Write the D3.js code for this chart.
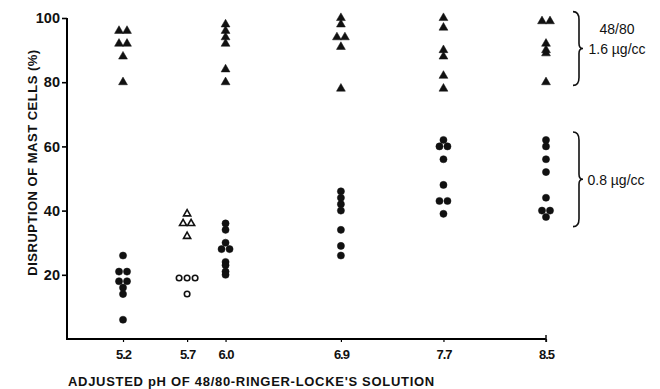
<!DOCTYPE html>
<html>
<head>
<meta charset="utf-8">
<script src="https://cdn.jsdelivr.net/npm/d3@7"></script>
<style>
  body { margin: 0; background: #fff; }
  text { font-family: "Liberation Sans", Arial, sans-serif; fill: #111; }
</style>
</head>
<body>
<script>
const WIDTH = 660
const HEIGHT = 389

// Data
const phTicks = [5.2, 5.7, 6.0, 6.9, 7.7, 8.5]
const yTicks = [20, 40, 60, 80, 100]

// 48/80 at 1.6 ug/cc (filled triangles)
const highDosePh = [5.2, 6.0, 6.9, 7.7, 8.5]
const highDoseValues = [
  [96, 96, 92, 92, 88, 80],
  [98, 96, 94, 92, 84, 80],
  [100, 98, 94, 94, 91, 78],
  [100, 97, 90, 88, 82, 78],
  [99, 99, 92, 90, 89, 80]
]

// 48/80 at 0.8 ug/cc (filled circles)
const lowDosePh = [5.2, 6.0, 6.9, 7.7, 8.5]
const lowDoseValues = [
  [26, 21, 21, 18, 18, 16, 14, 6],
  [36, 34, 30, 28, 28, 24, 23, 21, 20],
  [46, 44, 42, 40, 34, 29, 26],
  [62, 60, 60, 56, 48, 43, 43, 39],
  [62, 60, 56, 52, 44, 40, 40, 38]
]

// open symbols at pH 5.7
const openPh = 5.7
const openTriangles = [39, 36, 36, 32]
const openCircles = [19, 19, 19, 14]

// bracket ranges (% disruption) and labels
const braceRanges = [[79, 102], [35, 64.5]]
const braceLabels = [["48/80", "1.6 \u00b5g/cc"], ["0.8 \u00b5g/cc"]]

// Scales
const x = d3.scaleLinear().domain([4.763, 8.5]).range([67, 546])
const y = d3.scaleLinear().domain([0, 100]).range([339, 18])

const svg = d3.select("body").append("svg")
  .attr("width", WIDTH)
  .attr("height", HEIGHT)
  .attr("viewBox", [0, 0, WIDTH, HEIGHT])

// Build point list; equal values in a column sit side by side
const points = []
const addGroup = (ph, values, shape, filled) => {
  const counts = d3.rollup(values, v => v.length, d => d)
  const seen = new Map()
  values.forEach(v => {
    const n = counts.get(v)
    const k = seen.get(v) || 0
    seen.set(v, k + 1)
    points.push({ ph, v, shape, filled, off: (k - (n - 1) / 2) * 8 })
  })
}
highDosePh.forEach((ph, i) => addGroup(ph, highDoseValues[i], "tri", true))
lowDosePh.forEach((ph, i) => addGroup(ph, lowDoseValues[i], "circle", true))
addGroup(openPh, openTriangles, "tri", false)
addGroup(openPh, openCircles, "circle", false)

const triangle = d3.symbol().type(d3.symbolTriangle)
const circle = d3.symbol().type(d3.symbolCircle)

svg.append("g")
  .selectAll("path")
  .data(points)
  .join("path")
    .attr("transform", d => `translate(${x(d.ph) + d.off},${y(d.v)})`)
    .attr("d", d => d.shape === "tri"
      ? triangle.size(d.filled ? 34 : 22)()
      : circle.size(d.filled ? 40 : 24)())
    .attr("fill", d => d.filled ? "#111" : "#fff")
    .attr("stroke", "#111")
    .attr("stroke-width", d => d.filled ? 0.5 : 1.6)

// Axes
svg.append("g")
  .attr("transform", `translate(${x.range()[0]},0)`)
  .call(d3.axisLeft(y).tickValues(yTicks).tickSize(5).tickPadding(2).tickSizeOuter(0))
  .call(g => g.select(".domain").attr("stroke-width", 2).attr("d", `M0,${y(100)}V${y(0) + 1}`))
  .call(g => g.selectAll(".tick line").attr("stroke-width", 1.6))
  .call(g => g.selectAll(".tick text")
    .attr("font-size", 14.5).attr("font-weight", "bold")
    .attr("font-family", "Liberation Sans, Arial, sans-serif").attr("fill", "#111"))

svg.append("g")
  .attr("transform", `translate(0,${y(0)})`)
  .call(d3.axisBottom(x).tickValues(phTicks).tickFormat(d3.format(".1f")).tickSize(3).tickPadding(8).tickSizeOuter(0))
  .call(g => g.select(".domain").attr("stroke-width", 2).attr("d", `M${x.range()[0]},0H${x(8.5)}`))
  .call(g => g.selectAll(".tick line").attr("stroke-width", 1.2))
  .call(g => g.selectAll(".tick text")
    .attr("font-size", 13).attr("font-weight", "bold").attr("letter-spacing", -1)
    .attr("font-family", "Liberation Sans, Arial, sans-serif").attr("fill", "#111"))

svg.append("line")
  .attr("x1", x(8.5)).attr("x2", x(8.5))
  .attr("y1", y(0) - 4).attr("y2", y(0) + 3)
  .attr("stroke", "#111").attr("stroke-width", 1.5)

// Axis titles
svg.append("text")
  .attr("transform", `translate(37,${(y(0) + y(100)) / 2 - 16}) rotate(-90)`)
  .attr("text-anchor", "middle")
  .attr("font-size", 13)
  .attr("font-weight", "bold")
  .attr("letter-spacing", 0.5)
  .text("DISRUPTION OF MAST CELLS (%)")

svg.append("text")
  .attr("x", 68)
  .attr("y", 386)
  .attr("font-size", 13)
  .attr("font-weight", "bold")
  .attr("letter-spacing", 0.7)
  .text("ADJUSTED pH OF 48/80-RINGER-LOCKE'S SOLUTION")

// Curly braces with labels
const brace = (bx, y0, y1, w) => {
  const ym = (y0 + y1) / 2
  const p = d3.path()
  p.moveTo(bx, y0)
  p.quadraticCurveTo(bx + w * 0.6, y0, bx + w * 0.6, y0 + 8)
  p.lineTo(bx + w * 0.6, ym - 5)
  p.quadraticCurveTo(bx + w * 0.6, ym, bx + w, ym)
  p.quadraticCurveTo(bx + w * 0.6, ym, bx + w * 0.6, ym + 5)
  p.lineTo(bx + w * 0.6, y1 - 8)
  p.quadraticCurveTo(bx + w * 0.6, y1, bx, y1)
  return p.toString()
}

braceRanges.forEach((r, i) => {
  const y0 = y(r[1]), y1 = y(r[0])
  svg.append("path")
    .attr("d", brace(573, y0, y1, 10))
    .attr("fill", "none")
    .attr("stroke", "#111")
    .attr("stroke-width", 1.6)
  const lines = braceLabels[i]
  const ym = (y0 + y1) / 2
  svg.append("text")
    .attr("text-anchor", "middle")
    .attr("font-size", 14)
    .selectAll("tspan")
    .data(lines)
    .join("tspan")
      .attr("x", i === 0 ? 617 : 616)
      .attr("y", (d, j) => ym + 6 + (j - (lines.length - 1)) * 20)
      .text(d => d)
})
</script>
</body>
</html>
